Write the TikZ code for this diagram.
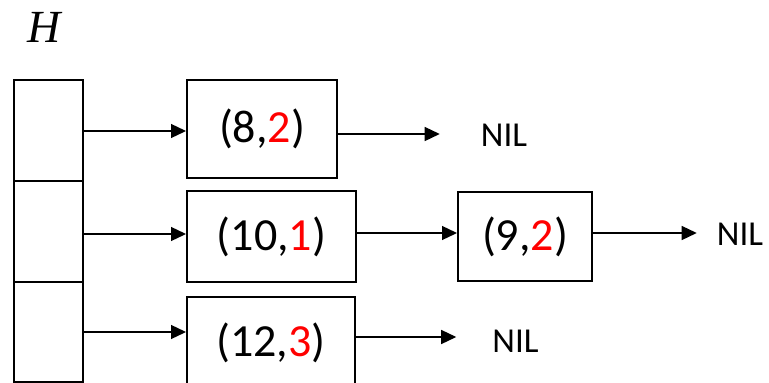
\documentclass[tikz,border=0pt]{standalone}
\usepackage{fontspec}
\setmainfont{Carlito}
\newfontfamily\hfont{Liberation Serif}
\usetikzlibrary{arrows.meta}
\begin{document}
\begin{tikzpicture}[x=1pt,y=-1pt,
  cell/.style={draw,line width=2pt,minimum width=69pt,minimum height=101pt,inner sep=0pt,anchor=center},
  item/.style={draw,line width=2pt,inner sep=0pt,anchor=center,font=\fontsize{46}{50}\selectfont},
  nil/.style={inner sep=0pt,anchor=center,font=\fontsize{35}{40}\selectfont},
  arr/.style={line width=1.3pt,-{Triangle[length=15pt,width=14pt]}}]
\useasboundingbox (0,0) rectangle (769,383);
\begin{scope}
\clip (0,0) rectangle (769,383);
\node[font=\hfont\itshape\fontsize{46}{50}\selectfont,inner sep=0pt] (H) at (44,27.5) {H};
\node[cell] (c1) at (48.5,130.5) {};
\node[cell] (c2) at (48.5,231.5) {};
\node[cell,minimum height=100pt] (c3) at (48.5,332) {};
\node[item,minimum width=150pt,minimum height=98pt] (b1) at (262,129) {(8,\textcolor{red}{2})};
\node[item,minimum width=169pt,minimum height=91pt] (b2) at (271.5,236.5) {(10,\textcolor{red}{1})};
\node[item,minimum width=168pt,minimum height=92pt] (b3) at (271,343) {(12,\textcolor{red}{3})};
\node[item,minimum width=134pt,minimum height=89pt] (b4) at (525,236.5) {(9,\textcolor{red}{2})};
\node[nil] (n1) at (504,135.5) {NIL};
\node[nil] (n2) at (740,234) {NIL};
\node[nil] (n3) at (515.5,341.5) {NIL};
\coordinate (a1) at (83,131);
\coordinate (a2) at (83,234);
\coordinate (a3) at (83,332);
\draw[arr] (a1) -- (a1 -| b1.west);
\draw[arr] (a2) -- (a2 -| b2.west);
\draw[arr] (a3) -- (a3 -| b3.west);
\coordinate (o1) at (337,134);
\coordinate (o2) at (356,233);
\coordinate (o3) at (355,337);
\coordinate (o4) at (592,233);
\draw[arr,shorten >=41pt] (o1) -- (o1 -| n1.west);
\draw[arr] (o2) -- (o2 -| b4.west);
\draw[arr,shorten >=36pt] (o3) -- (o3 -| n3.west);
\draw[arr,shorten >=20pt] (o4) -- (o4 -| n2.west);
\end{scope}
\end{tikzpicture}
\end{document}
